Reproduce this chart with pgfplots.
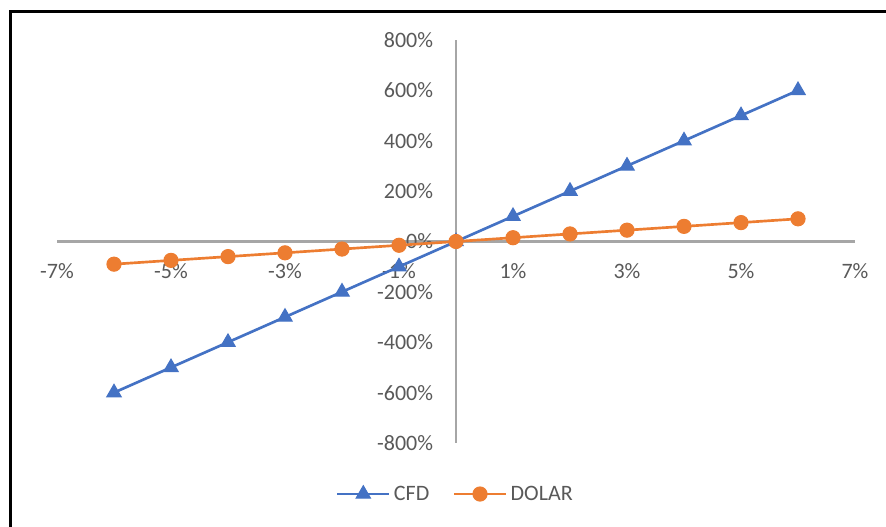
\documentclass[border=0pt]{standalone}
\usepackage{pgfplots}
\pgfplotsset{compat=1.18}
\usepackage{fontspec}
\setmainfont{Carlito}
\definecolor{cfdblue}{HTML}{4472C4}
\definecolor{dolarorange}{HTML}{ED7D31}
\definecolor{axisgray}{HTML}{A6A6A6}
\definecolor{labelgray}{HTML}{595959}

\begin{document}
\begin{tikzpicture}[font=\fontsize{16.5}{19.8}\selectfont]
\useasboundingbox (0,0) rectangle (664.5pt,395.25pt);
% chart frame (left and top edges)
\draw[line width=2.25pt, black] (7.5pt,-5pt) -- (7.5pt,386.25pt) -- (670pt,386.25pt);
\begin{axis}[
  at={(42.75pt,63pt)}, anchor=south west,
  width=598.5pt, height=302.25pt, scale only axis,
  xmin=-7, xmax=7, ymin=-800, ymax=800,
  axis lines=middle,
  axis line style={-, axisgray, line width=1.6pt},
  hide obscured x ticks=false,
  hide obscured y ticks=false,
  xtick={-7,-5,-3,-1,1,3,5,7},
  xticklabels={-7\%,-5\%,-3\%,-1\%,1\%,3\%,5\%,7\%},
  ytick={-800,-600,-400,-200,0,200,400,600,800},
  yticklabels={-800\%,-600\%,-400\%,-200\%,0\%,200\%,400\%,600\%,800\%},
  major tick length=0pt,
  xticklabel style={anchor=center, yshift=-22.5pt, text=labelgray},
  yticklabel style={anchor=east, inner sep=0pt, xshift=-17pt, text=labelgray},
  clip=false,
  legend style={at={(0.5,-0.1266)}, anchor=center, draw=none, fill=none,
    legend columns=2, text=labelgray, nodes={inner sep=2.5pt},
    /tikz/every even column/.append style={column sep=15pt}},
  legend image code/.code={\draw[mark repeat=2,mark phase=2,#1]
    plot coordinates {(0pt,0pt)(19.5pt,0pt)(39pt,0pt)};},
]
\addplot[cfdblue, line width=2pt, mark=triangle*, mark size=6.2pt,
  mark options={line width=0.8pt}] coordinates {
  (-6,-600) (-5,-500) (-4,-400) (-3,-300) (-2,-200) (-1,-100) (0,0)
  (1,100) (2,200) (3,300) (4,400) (5,500) (6,600)};
\addlegendentry{CFD}
\addplot[dolarorange, line width=2pt, mark=*, mark size=5.3pt,
  mark options={line width=0.8pt}] coordinates {
  (-6,-90) (-5,-75) (-4,-60) (-3,-45) (-2,-30) (-1,-15) (0,0)
  (1,15) (2,30) (3,45) (4,60) (5,75) (6,90)};
\addlegendentry{DOLAR}
\end{axis}
\end{tikzpicture}
\end{document}
